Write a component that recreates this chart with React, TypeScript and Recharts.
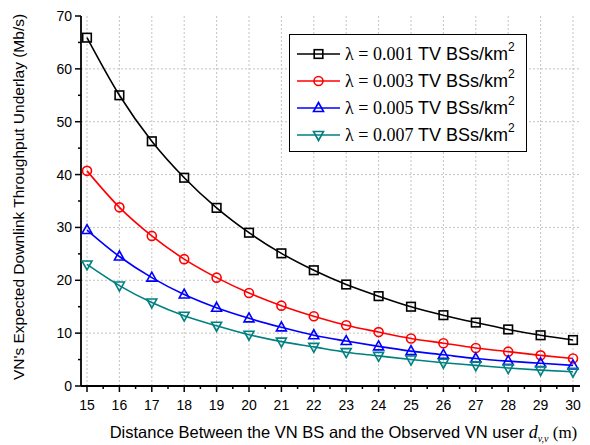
import React from "react";
import { LineChart, Line, XAxis, YAxis, CartesianGrid, Legend } from "recharts";

// distance d_{v,v} (m)
const distances = [15, 16, 17, 18, 19, 20, 21, 22, 23, 24, 25, 26, 27, 28, 29, 30];

// expected downlink throughput (Mb/s), one array per TV BS density
const lambda001 = [65.9, 55.0, 46.3, 39.4, 33.7, 29.0, 25.1, 21.9, 19.2, 17.0, 15.0, 13.4, 12.0, 10.7, 9.6, 8.7];
const lambda003 = [40.7, 33.8, 28.4, 24.0, 20.5, 17.6, 15.2, 13.2, 11.5, 10.2, 9.0, 8.1, 7.2, 6.5, 5.8, 5.2];
const lambda005 = [29.5, 24.5, 20.5, 17.3, 14.8, 12.8, 11.1, 9.6, 8.5, 7.5, 6.6, 5.9, 5.2, 4.7, 4.3, 3.9];
const lambda007 = [23.0, 19.0, 15.8, 13.3, 11.4, 9.7, 8.4, 7.4, 6.4, 5.7, 5.0, 4.4, 3.9, 3.4, 3.0, 2.7];

const lambdaLabels = ["0.001", "0.003", "0.005", "0.007"];

// major + minor ticks; labels only on the majors
const xTicks = [15, 15.5, 16, 16.5, 17, 17.5, 18, 18.5, 19, 19.5, 20, 20.5, 21, 21.5, 22, 22.5, 23, 23.5, 24, 24.5, 25, 25.5, 26, 26.5, 27, 27.5, 28, 28.5, 29, 29.5, 30];
const yTicks = [0, 5, 10, 15, 20, 25, 30, 35, 40, 45, 50, 55, 60, 65, 70];
const yGrid = [10, 20, 30, 40, 50, 60];

const data = distances.map((d, i) => ({
  d,
  s1: lambda001[i],
  s2: lambda003[i],
  s3: lambda005[i],
  s4: lambda007[i],
}));

const series = [
  { key: "s1", color: "#000000", shape: "square", label: lambdaLabels[0] },
  { key: "s2", color: "#ff0000", shape: "circle", label: lambdaLabels[1] },
  { key: "s3", color: "#0000ff", shape: "up", label: lambdaLabels[2] },
  { key: "s4", color: "#008080", shape: "down", label: lambdaLabels[3] },
];

const SANS = "Arial, 'Liberation Sans', sans-serif";
const SERIF = "'Times New Roman', 'Liberation Serif', serif";

function Marker({ shape, cx, cy, color }: any) {
  const sw = 1.6;
  if (shape === "square")
    return <rect x={cx - 4.3} y={cy - 4.3} width={8.6} height={8.6} fill="none" stroke={color} strokeWidth={sw} />;
  if (shape === "circle") return <circle cx={cx} cy={cy} r={4.5} fill="none" stroke={color} strokeWidth={sw} />;
  if (shape === "up")
    return (
      <polygon
        points={`${cx},${cy - 5.5} ${cx + 5},${cy + 3.5} ${cx - 5},${cy + 3.5}`}
        fill="none"
        stroke={color}
        strokeWidth={sw}
      />
    );
  return (
    <polygon
      points={`${cx},${cy + 5.5} ${cx + 5},${cy - 3.5} ${cx - 5},${cy - 3.5}`}
      fill="none"
      stroke={color}
      strokeWidth={sw}
    />
  );
}

function XTick({ x, y, payload }: any) {
  const major = Number.isInteger(payload.value);
  return (
    <g>
      <line x1={x} x2={x} y1={y} y2={y + (major ? 6 : 3)} stroke="#000" strokeWidth={1.5} />
      {major && (
        <text x={x} y={y + 24} textAnchor="middle" fontFamily={SANS} fontSize={14} fill="#000">
          {payload.value}
        </text>
      )}
    </g>
  );
}

function YTick({ x, y, payload }: any) {
  const major = payload.value % 10 === 0;
  return (
    <g>
      <line x1={x - (major ? 6 : 3)} x2={x} y1={y} y2={y} stroke="#000" strokeWidth={1.5} />
      {major && (
        <text x={x - 9} y={y + 5} textAnchor="end" fontFamily={SANS} fontSize={14} fill="#000">
          {payload.value}
        </text>
      )}
    </g>
  );
}

function LegendBox() {
  return (
    <div
      style={{
        width: 238,
        height: 118,
        border: "1.5px solid #000",
        boxSizing: "border-box",
        background: "#fff",
      }}
    >
      <svg width={236} height={116} style={{ display: "block" }}>
        {series.map((s, i) => {
          const y = 19 + i * 27;
          return (
            <g key={s.key}>
              <line x1={7} x2={50} y1={y} y2={y} stroke={s.color} strokeWidth={1.6} />
              <Marker shape={s.shape} cx={28.5} cy={y} color={s.color} />
              <text x={55} y={y + 6} fill="#000">
                <tspan fontFamily={SERIF} fontSize={18}>
                  {"λ = " + s.label + " "}
                </tspan>
                <tspan fontFamily={SANS} fontSize={18}>
                  TV BSs/km
                </tspan>
                <tspan fontFamily={SANS} fontSize={12} dy={-9}>
                  2
                </tspan>
              </text>
            </g>
          );
        })}
      </svg>
    </div>
  );
}

export default function App() {
  return (
    <div style={{ position: "absolute", left: 0, top: 0, background: "#fff" }}>
      <LineChart width={590} height={445} data={data} margin={{ top: 16, right: 10, bottom: 0, left: 0 }}>
        <CartesianGrid
          horizontalValues={yGrid}
          verticalValues={distances}
          stroke="#c4c4c4"
          strokeDasharray="2 2"
          strokeWidth={1}
        />
        <XAxis
          dataKey="d"
          type="number"
          domain={[15, 30]}
          padding={{ left: 6, right: 7 }}
          ticks={xTicks}
          interval={0}
          height={59}
          tickSize={0}
          tickMargin={0}
          axisLine={{ stroke: "#000", strokeWidth: 1.8 }}
          tickLine={false}
          tick={<XTick />}
          label={{
            content: ({ viewBox }: any) => (
              <text x={viewBox.x + viewBox.width / 2 + 13} y={viewBox.y + 52} textAnchor="middle" fill="#000">
                <tspan fontFamily={SANS} fontSize={16.5}>
                  {"Distance Between the VN BS and the Observed VN user "}
                </tspan>
                <tspan fontFamily={SERIF} fontSize={18} fontStyle="italic">
                  d
                </tspan>
                <tspan fontFamily={SERIF} fontSize={10} fontStyle="italic" dy={4}>
                  v,v
                </tspan>
                <tspan fontFamily={SERIF} fontSize={17} dy={-4}>
                  {" (m)"}
                </tspan>
              </text>
            ),
          }}
        />
        <YAxis
          type="number"
          domain={[0, 70]}
          ticks={yTicks}
          interval={0}
          width={81}
          tickSize={0}
          tickMargin={0}
          axisLine={{ stroke: "#000", strokeWidth: 1.8 }}
          tickLine={false}
          tick={<YTick />}
          label={{
            content: ({ viewBox }: any) => (
              <text
                x={18}
                y={viewBox.y + viewBox.height / 2 - 4}
                transform={`rotate(-90, 18, ${viewBox.y + viewBox.height / 2 - 4})`}
                textAnchor="middle"
                dominantBaseline="central"
                fontFamily={SANS}
                fontSize={15.5}
                fill="#000"
              >
                VN's Expected Downlink Throughput Underlay (Mb/s)
              </text>
            ),
          }}
        />
        {series.map((s) => (
          <Line
            key={s.key}
            dataKey={s.key}
            type="monotone"
            stroke={s.color}
            strokeWidth={1.6}
            isAnimationActive={false}
            dot={(p: any) => <Marker key={`${s.key}-${p.index}`} shape={s.shape} cx={p.cx} cy={p.cy} color={s.color} />}
            activeDot={false}
          />
        ))}
        <Legend
          layout="vertical"
          align="center"
          verticalAlign="middle"
          wrapperStyle={{ left: 289, top: 34, width: 238, height: 118 }}
          content={() => <LegendBox />}
        />
      </LineChart>
    </div>
  );
}
